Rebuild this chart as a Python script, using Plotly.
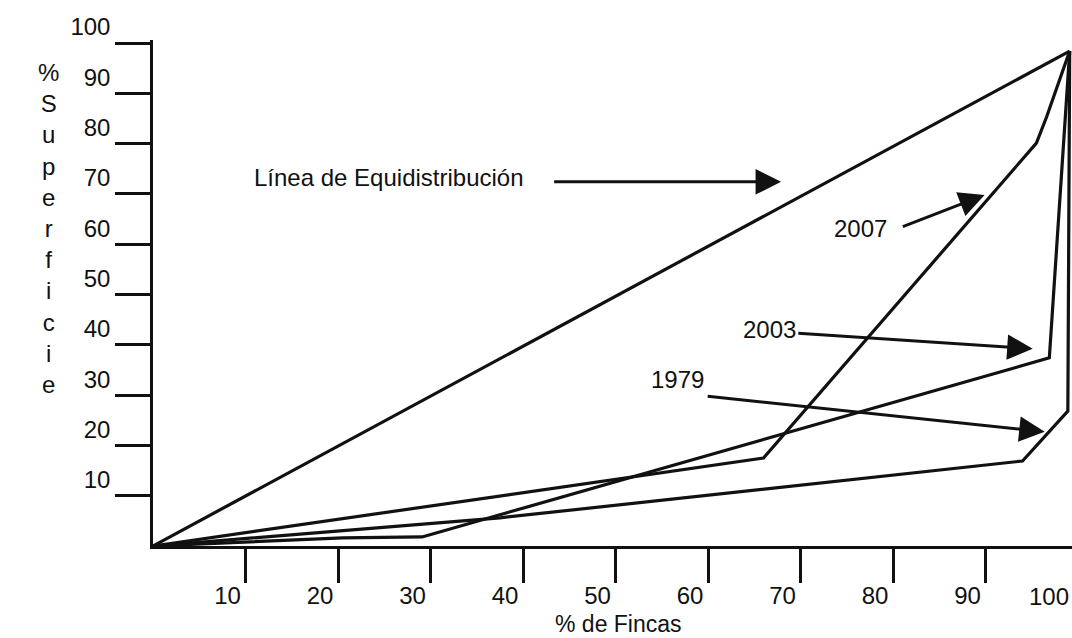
import plotly.graph_objects as go

# ---- data ----
equi_x = [0, 99.1]
equi_y = [0, 98.4]

x1979 = [0, 37.5, 94.0, 98.9, 99.1]
y1979 = [0, 5.6, 16.9, 26.8, 98.4]

x2003 = [0, 20.5, 29.1, 96.9, 99.1]
y2003 = [0, 1.6, 1.8, 37.4, 98.4]

x2007 = [0, 66.0, 95.5, 96.6, 99.1]
y2007 = [0, 17.5, 80.1, 85.3, 98.4]

x_ticks = [10, 20, 30, 40, 50, 60, 70, 80, 90]
y_ticks = [10, 20, 30, 40, 50, 60, 70, 80, 90, 100]
y_title = "% Superficie"
x_title = "% de Fincas"

FONT = "Liberation Sans, Arial, sans-serif"
BLACK = "#111111"
FS = 24
X_MAX = 99.35

fig = go.Figure()
for xs, ys in [(equi_x, equi_y), (x1979, y1979), (x2003, y2003), (x2007, y2007)]:
    fig.add_trace(go.Scatter(x=xs, y=ys, mode="lines",
                             line=dict(color=BLACK, width=3.2),
                             showlegend=False, hoverinfo="skip"))

fig.update_layout(
    width=1072, height=638, autosize=False,
    margin=dict(l=153, r=0, t=40, b=92, pad=0),
    paper_bgcolor="white", plot_bgcolor="white",
    font=dict(family=FONT, size=FS, color=BLACK),
)
fig.update_xaxes(range=[0, X_MAX], showgrid=False, zeroline=False,
                 showline=True, linecolor=BLACK, linewidth=2.5,
                 ticks="outside", ticklen=34, tickwidth=2.5, tickcolor=BLACK,
                 tickvals=x_ticks, ticktext=[str(v) for v in x_ticks],
                 tickfont=dict(size=FS), ticklabelshift=-18, ticklabelstandoff=-8)
fig.update_yaxes(range=[0, 100.6], showgrid=False, zeroline=False,
                 showline=True, linecolor=BLACK, linewidth=2.5,
                 ticks="outside", ticklen=35, tickwidth=2.5, tickcolor=BLACK,
                 tickvals=y_ticks, ticktext=[str(v) for v in y_ticks],
                 tickfont=dict(size=FS), ticklabelshift=-16, ticklabelstandoff=0)

# "100" tick label at the right edge (x = 100 lies just past the plot edge)
fig.add_annotation(x=1, y=0, xref="paper", yref="paper", text="100",
                   showarrow=False, xanchor="right", yanchor="middle",
                   xshift=-1, yshift=-50, font=dict(size=FS))

# axis titles
fig.add_annotation(x=0, y=0.628, xref="paper", yref="paper",
                   text="<br>".join([c for c in y_title if c != " "]),
                   showarrow=False, xanchor="center", yanchor="middle",
                   xshift=-105, font=dict(size=FS))
fig.add_annotation(x=0.507, y=0, xref="paper", yref="paper", text=x_title,
                   showarrow=False, xanchor="center", yanchor="middle",
                   yshift=-78, font=dict(size=23))

# labels
labels = [
    ("Línea de Equidistribución", 10.7, 73.2, "left"),
    ("2007", 76.5, 63.2, "center"),
    ("2003", 66.6, 43.1, "center"),
    ("1979", 56.7, 33.2, "center"),
]
for t, lx, ly, anc in labels:
    fig.add_annotation(x=lx, y=ly, text=t, showarrow=False, xanchor=anc,
                       yanchor="middle", font=dict(size=FS))

# arrows (tail -> head)
arrows = [
    (43.2, 72.4, 67.9, 72.4),
    (80.9, 63.4, 89.9, 69.8),
    (69.6, 42.3, 95.1, 39.2),
    (59.8, 29.8, 96.4, 22.7),
]
for ax_, ay_, hx, hy in arrows:
    fig.add_annotation(x=hx, y=hy, ax=ax_, ay=ay_, xref="x", yref="y",
                       axref="x", ayref="y", text="", showarrow=True,
                       arrowhead=2, arrowsize=1.7, arrowwidth=3,
                       arrowcolor=BLACK, standoff=0, startstandoff=0)

fig.write_html("out.html",
               config={"displayModeBar": False},
               post_script="document.body.style.margin='0';"
                           "document.body.style.overflow='hidden';")
